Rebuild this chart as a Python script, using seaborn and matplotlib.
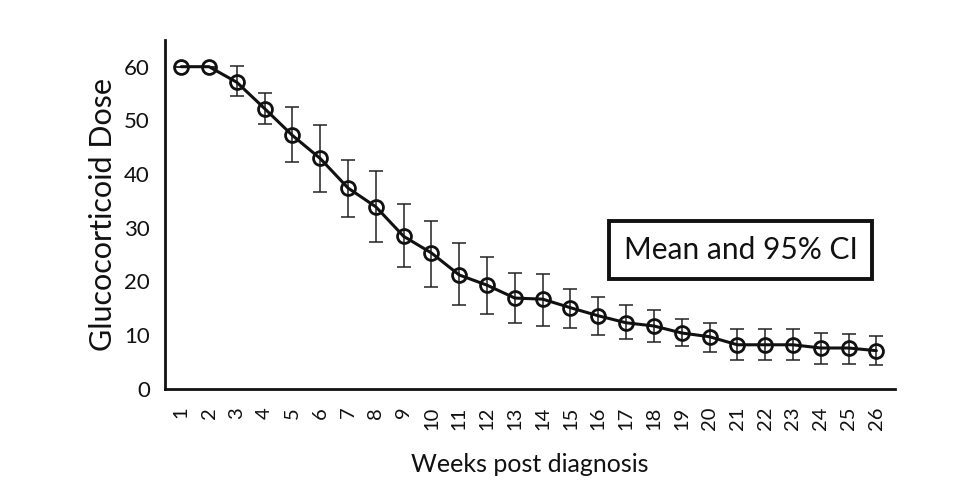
import numpy as np
import pandas as pd
import matplotlib
matplotlib.use("Agg")
import matplotlib.pyplot as plt
import seaborn as sns

weeks = list(range(1, 27))
mean_dose = [60.0, 60.0, 57.1, 52.2, 47.2, 42.9, 37.4, 33.9, 28.4, 25.3,
             21.2, 19.3, 16.9, 16.7, 15.1, 13.6, 12.3, 11.7, 10.4, 9.7,
             8.2, 8.2, 8.2, 7.6, 7.6, 7.1]
ci_low = [60.0, 60.0, 54.6, 49.4, 42.3, 36.7, 32.0, 27.4, 22.6, 18.9,
          15.6, 13.9, 12.3, 11.7, 11.3, 10.0, 9.3, 8.7, 8.0, 6.9,
          5.4, 5.4, 5.3, 4.6, 4.7, 4.5]
ci_high = [60.0, 60.0, 60.2, 55.1, 52.5, 49.1, 42.6, 40.6, 34.4, 31.3,
           27.1, 24.5, 21.6, 21.4, 18.6, 17.1, 15.6, 14.7, 13.0, 12.3,
           11.2, 11.2, 11.1, 10.4, 10.3, 9.9]

df = pd.DataFrame({'week': weeks, 'dose': mean_dose, 'lo': ci_low, 'hi': ci_high})

sns.set_style("white")
plt.rcParams['font.family'] = ['Lato', 'DejaVu Sans']

fig = plt.figure(figsize=(9.71, 4.86), dpi=100)
ax = fig.add_axes([0.170, 0.200, 0.752, 0.718])

# CI whiskers first, then the mean line with open circles on top
ax.errorbar(df['week'], df['dose'],
            yerr=[df['dose'] - df['lo'], df['hi'] - df['dose']],
            fmt='none', ecolor='#222222', elinewidth=1.1, capsize=5, capthick=1.1, zorder=2)
sns.lineplot(data=df, x='week', y='dose', ax=ax, color='#111111', linewidth=2.2,
             marker='o', markersize=10, markerfacecolor='none',
             markeredgecolor='#111111', markeredgewidth=2.0, zorder=3)

ax.set_xlim(0.42, 26.68)
ax.set_ylim(0, 65)
ax.set_xticks(weeks)
ax.set_xticklabels([str(w) for w in weeks], rotation=90)
ax.set_yticks(range(0, 61, 10))

for s in ['top', 'right']:
    ax.spines[s].set_visible(False)
for s in ['left', 'bottom']:
    ax.spines[s].set_linewidth(2.0)
    ax.spines[s].set_color('#111111')
ax.tick_params(axis='both', direction='out', length=7, width=1.8, color='#111111',
               labelcolor='#111111')
ax.tick_params(axis='y', labelsize=16, pad=4)
ax.tick_params(axis='x', labelsize=14.5, pad=6)

ax.set_xlabel('Weeks post diagnosis', fontsize=18, color='#111111', labelpad=16)
ax.set_ylabel('Glucocorticoid Dose', fontsize=22, color='#111111', labelpad=5)

ax.text(0.788, 0.398, 'Mean and 95% CI', transform=ax.transAxes, fontsize=21.5,
        ha='center', va='center', color='#111111',
        bbox=dict(boxstyle='square,pad=0.5', facecolor='white', edgecolor='#111111', linewidth=2.8))

fig.savefig('out.png', dpi=100, facecolor='white')
